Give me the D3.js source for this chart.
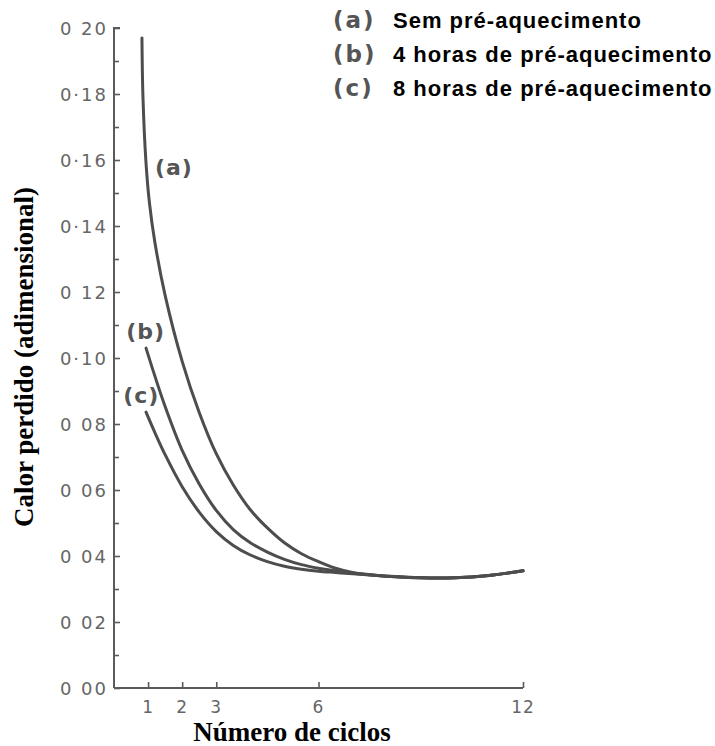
<!DOCTYPE html>
<html>
<head>
<meta charset="utf-8">
<script src="https://cdn.jsdelivr.net/npm/d3@7"></script>
<style>
  html, body { margin: 0; padding: 0; background: #fff; }
  svg { display: block; }
</style>
</head>
<body>
<svg id="chart" width="715" height="746"></svg>
<script>
// Heat lost per cycle for three preheating regimes
const curveA = [
  [0.82, 0.197], [0.85, 0.179], [0.94, 0.159], [1.04, 0.147], [1.2, 0.135],
  [1.5, 0.119], [2.0, 0.099], [2.5, 0.0835], [3.0, 0.0710], [3.5, 0.0615],
  [4.0, 0.0540], [4.5, 0.0485], [5.0, 0.0440], [5.5, 0.0407], [6.0, 0.0383],
  [6.5, 0.0363], [7.0, 0.0350], [8.0, 0.0339], [9.0, 0.0334], [10.0, 0.0334],
  [11.0, 0.0341], [12.0, 0.0355]
];
const curveB = [
  [0.94, 0.103], [1.2, 0.0945], [1.5, 0.0853], [2.0, 0.0720], [2.5, 0.0618],
  [3.0, 0.0538], [3.5, 0.0480], [4.0, 0.0440], [4.5, 0.0412], [5.0, 0.0390],
  [5.5, 0.0374], [6.0, 0.0363], [6.5, 0.0355], [7.0, 0.0348], [8.0, 0.0339],
  [9.0, 0.0334], [10.0, 0.0334], [11.0, 0.0341], [12.0, 0.0355]
];
const curveC = [
  [0.94, 0.0836], [1.2, 0.0774], [1.5, 0.0707], [2.0, 0.0610], [2.5, 0.0533],
  [3.0, 0.0474], [3.5, 0.0432], [4.0, 0.0403], [4.5, 0.0383], [5.0, 0.0369],
  [5.5, 0.0360], [6.0, 0.0354], [6.5, 0.0350], [7.0, 0.0346], [8.0, 0.0339],
  [9.0, 0.0334], [10.0, 0.0334], [11.0, 0.0341], [12.0, 0.0355]
];
const seriesNames = ["(a)", "(b)", "(c)"];
const legendTexts = ["Sem pré-aquecimento", "4 horas de pré-aquecimento", "8 horas de pré-aquecimento"];
const xTicks = [1, 2, 3, 6, 12];
const yTicks = [0, 0.02, 0.04, 0.06, 0.08, 0.10, 0.12, 0.14, 0.16, 0.18, 0.20];
const yTickLabels = ["0 00", "0 02", "0 04", "0 06", "0 08", "0·10", "0 12", "0·14", "0·16", "0·18", "0 20"];
const yMinorTicks = [0.01, 0.03, 0.05, 0.07, 0.09, 0.11, 0.13, 0.15, 0.17, 0.19];
// where each curve's tag sits, in data units
const tagPositions = [[1.2, 0.1556], [0.36, 0.1058], [0.27, 0.0864]];

const svg = d3.select("#chart");
const x = d3.scaleLinear().domain([0, 12]).range([114, 523]);
const y = d3.scaleLinear().domain([0, 0.20]).range([688, 28]);

const ink = "#4d4d4d";
const axisInk = "#5a5a5a";
const tickFont = "'DejaVu Sans', sans-serif";

// y axis with ticks pointing inwards
const yAxis = d3.axisRight(y)
  .tickValues(yTicks)
  .tickSize(6)
  .tickFormat("");
const gy = svg.append("g").attr("transform", `translate(${x(0)},0)`).call(yAxis);
gy.select(".domain").attr("stroke", axisInk).attr("stroke-width", 2).attr("d", `M6,${y(0.2)}H0V${y(0)}`);
gy.selectAll(".tick line").attr("stroke", axisInk).attr("stroke-width", 1.6);

const yMinor = d3.axisRight(y).tickValues(yMinorTicks).tickSize(5).tickFormat("");
const gym = svg.append("g").attr("transform", `translate(${x(0)},0)`).call(yMinor);
gym.select(".domain").remove();
gym.selectAll(".tick line").attr("stroke", axisInk).attr("stroke-width", 1.6);

svg.append("g").selectAll("text").data(yTicks).join("text")
  .attr("x", 108)
  .attr("y", d => y(d) + 6.5)
  .attr("text-anchor", "end")
  .attr("font-family", tickFont)
  .attr("font-size", 18)
  .attr("letter-spacing", 2)
  .attr("fill", "#666")
  .text((d, i) => yTickLabels[i]);

// x axis with upward ticks
const xAxis = d3.axisTop(x).tickValues(xTicks).tickSize(6).tickFormat("");
const gx = svg.append("g").attr("transform", `translate(0,${y(0)})`).call(xAxis);
gx.select(".domain").attr("stroke", axisInk).attr("stroke-width", 2).attr("d", `M${x(0)},0H${x(12)}`);
gx.selectAll(".tick line").attr("stroke", axisInk).attr("stroke-width", 1.6);

svg.append("g").selectAll("text").data(xTicks).join("text")
  .attr("x", d => x(d))
  .attr("y", 713)
  .attr("text-anchor", "middle")
  .attr("font-family", tickFont)
  .attr("font-size", 17)
  .attr("letter-spacing", 1)
  .attr("fill", "#666")
  .text(d => d);

// curves
const line = d3.line()
  .x(d => x(d[0]))
  .y(d => y(d[1]))
  .curve(d3.curveCatmullRom.alpha(0.5));

svg.append("g").selectAll("path").data([curveA, curveB, curveC]).join("path")
  .attr("d", line)
  .attr("fill", "none")
  .attr("stroke", ink)
  .attr("stroke-width", 3)
  .attr("stroke-linecap", "round");

// curve tags
svg.append("g").selectAll("text").data(tagPositions).join("text")
  .attr("x", d => x(d[0]))
  .attr("y", d => y(d[1]))
  .attr("font-family", tickFont)
  .attr("font-size", 22)
  .attr("font-weight", "bold")
  .attr("letter-spacing", 1)
  .attr("fill", "#555")
  .text((d, i) => seriesNames[i]);

// legend
const legend = svg.append("g");
legendTexts.forEach((t, i) => {
  const by = 28 + i * 34;
  legend.append("text")
    .attr("x", 333).attr("y", by)
    .attr("font-family", tickFont)
    .attr("font-size", 23)
    .attr("font-weight", "bold")
    .attr("letter-spacing", 2)
    .attr("fill", "#555")
    .text(seriesNames[i]);
  legend.append("text")
    .attr("x", 393).attr("y", by)
    .attr("font-family", "'Liberation Sans', Arial, sans-serif")
    .attr("font-size", 22)
    .attr("font-weight", "bold")
    .attr("letter-spacing", 1)
    .attr("fill", "#000")
    .text(t);
});

// axis titles
svg.append("text")
  .attr("x", 292).attr("y", 741)
  .attr("text-anchor", "middle")
  .attr("font-family", "'Liberation Serif', 'Times New Roman', serif")
  .attr("font-size", 27)
  .attr("font-weight", "bold")
  .attr("fill", "#000")
  .text("Número de ciclos");

svg.append("text")
  .attr("transform", "translate(33,357) rotate(-90)")
  .attr("text-anchor", "middle")
  .attr("font-family", "'Liberation Serif', 'Times New Roman', serif")
  .attr("font-size", 27)
  .attr("font-weight", "bold")
  .attr("fill", "#000")
  .text("Calor perdido (adimensional)");
</script>
</body>
</html>
